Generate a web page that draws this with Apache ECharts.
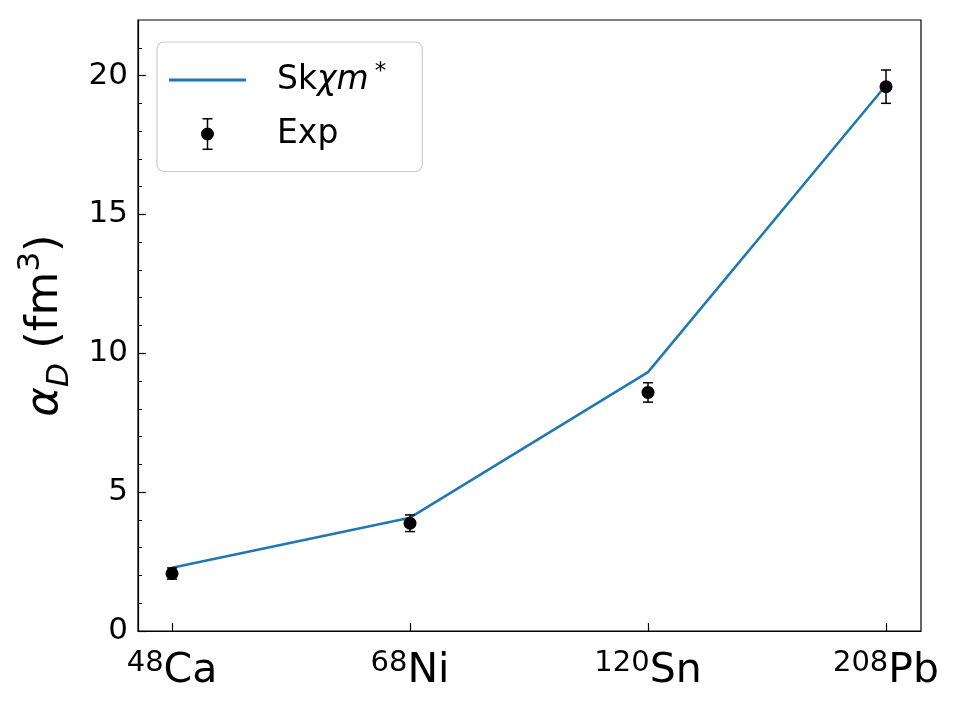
<!DOCTYPE html>
<html>
<head>
<meta charset="utf-8">
<script src="https://cdn.jsdelivr.net/npm/echarts@6/dist/echarts.min.js"></script>
<style>
  html, body { margin: 0; padding: 0; background: #fff; }
  #chart { width: 960px; height: 720px; }
</style>
</head>
<body>
<div id="chart"></div>
<script>
// nuclei on the x axis
const nuclei = [
  { mass: '48', el: 'Ca' },
  { mass: '68', el: 'Ni' },
  { mass: '120', el: 'Sn' },
  { mass: '208', el: 'Pb' }
]
const xPos = [0, 1, 2, 3]
// Skchi m* prediction
const theory = [2.28, 4.08, 9.32, 19.65]
// experimental values and errors
const expVal = [2.07, 3.88, 8.59, 19.6]
const expErr = [0.2, 0.3, 0.35, 0.6]
const yTicks = [0, 5, 10, 15, 20]

const font = 'DejaVu Sans'
const blue = '#1f77b4'

// error bar glyph for the legend (caps, stem, dot)
const errIcon = 'path://M-5 -16H5V-14.5H-5Z M-0.75 -16H0.75V16H-0.75Z M-5 14.5H5V16H-5Z ' +
  'M-6.5 0A6.5 6.5 0 1 1 6.5 0A6.5 6.5 0 1 1 -6.5 0Z'

const chart = echarts.init(document.getElementById('chart'))

const option = {
  backgroundColor: '#fff',
  animation: false,
  textStyle: { fontFamily: font, color: '#000' },
  grid: {
    left: 138, right: 39, top: 20, bottom: 89,
    show: true, borderColor: '#000', borderWidth: 1.2
  },
  legend: {
    left: 157, top: 42,
    orient: 'vertical',
    padding: [19, 36, 21, 12],
    itemWidth: 77, itemHeight: 32, itemGap: 21,
    backgroundColor: 'rgba(255,255,255,0.8)',
    borderColor: '#cccccc', borderWidth: 1.2, borderRadius: 7,
    itemStyle: { borderWidth: 0 },
    data: [
      { name: 'Skχm*', icon: 'path://M0 0H77V3H0Z' },
      { name: 'Exp', icon: errIcon }
    ],
    formatter: name => name === 'Exp' ? '{n|Exp}' : '{n|Sk}{i|χm}{s|*}',
    textStyle: {
      padding: [0, 0, 0, 26],
      rich: {
        n: { fontFamily: font, fontSize: 33, color: '#000', lineHeight: 38 },
        i: { fontFamily: font, fontSize: 33, fontStyle: 'italic', color: '#000', lineHeight: 38 },
        s: { fontFamily: font, fontSize: 23, color: '#000', verticalAlign: 'top', lineHeight: 38, padding: [0, 0, 0, 6] }
      }
    }
  },
  xAxis: {
    type: 'value',
    min: -0.143, max: 3.147,
    splitLine: { show: false },
    axisLine: { onZero: false, lineStyle: { color: '#000', width: 1.2 } },
    axisTick: {
      customValues: xPos, inside: true, length: 8,
      lineStyle: { color: '#000', width: 1.2 }
    },
    axisLabel: {
      customValues: xPos,
      margin: 18,
      formatter: v => {
        const n = nuclei[Math.round(v)]
        return '{s|' + n.mass + '}{m|' + n.el + '}'
      },
      rich: {
        s: { fontFamily: font, fontSize: 29, color: '#000', verticalAlign: 'top', lineHeight: 44 },
        m: { fontFamily: font, fontSize: 41, color: '#000', lineHeight: 44 }
      }
    }
  },
  yAxis: {
    type: 'value',
    min: 0, max: 22, interval: 5,
    name: '{a|α}{d|D}{b| (fm}{u|3}{b|)}',
    nameLocation: 'middle',
    nameRotate: 90,
    nameGap: 63,
    nameTextStyle: {
      rich: {
        a: { fontFamily: font, fontSize: 45, fontStyle: 'italic', color: '#000', lineHeight: 60 },
        d: { fontFamily: font, fontSize: 31, fontStyle: 'italic', color: '#000', verticalAlign: 'bottom', lineHeight: 60 },
        b: { fontFamily: font, fontSize: 45, color: '#000', lineHeight: 60 },
        u: { fontFamily: font, fontSize: 31, color: '#000', verticalAlign: 'top', lineHeight: 60 }
      }
    },
    splitLine: { show: false },
    axisLine: { onZero: false, lineStyle: { color: '#000', width: 1.2 } },
    axisTick: { customValues: yTicks, inside: true, length: 8, lineStyle: { color: '#000', width: 1.2 } },
    minorTick: { show: true, splitNumber: 5, length: 4, lineStyle: { color: '#000', width: 1 } },
    axisLabel: { customValues: yTicks, fontSize: 31, color: '#000', fontFamily: font, margin: 10 }
  },
  series: [
    {
      name: 'Skχm*',
      type: 'line',
      data: xPos.map((x, i) => [x, theory[i]]),
      showSymbol: false,
      symbol: 'none',
      lineStyle: { color: blue, width: 2.5 },
      itemStyle: { color: blue },
      z: 2
    },
    {
      name: 'Exp',
      type: 'custom',
      data: xPos.map((x, i) => [x, expVal[i] - expErr[i], expVal[i] + expErr[i]]),
      itemStyle: { color: '#000' },
      renderItem: (params, api) => {
        const lo = api.coord([api.value(0), api.value(1)])
        const hi = api.coord([api.value(0), api.value(2)])
        const cap = 5
        const st = { stroke: '#000', lineWidth: 1.5 }
        return {
          type: 'group',
          children: [
            { type: 'line', shape: { x1: lo[0], y1: lo[1], x2: hi[0], y2: hi[1] }, style: st },
            { type: 'line', shape: { x1: lo[0] - cap, y1: lo[1], x2: lo[0] + cap, y2: lo[1] }, style: st },
            { type: 'line', shape: { x1: hi[0] - cap, y1: hi[1], x2: hi[0] + cap, y2: hi[1] }, style: st }
          ]
        }
      },
      z: 3
    },
    {
      name: 'Exp',
      type: 'scatter',
      data: xPos.map((x, i) => [x, expVal[i]]),
      symbol: 'circle',
      symbolSize: 13,
      itemStyle: { color: '#000', opacity: 1 },
      z: 4
    }
  ]
}

chart.setOption(option)
</script>
</body>
</html>
